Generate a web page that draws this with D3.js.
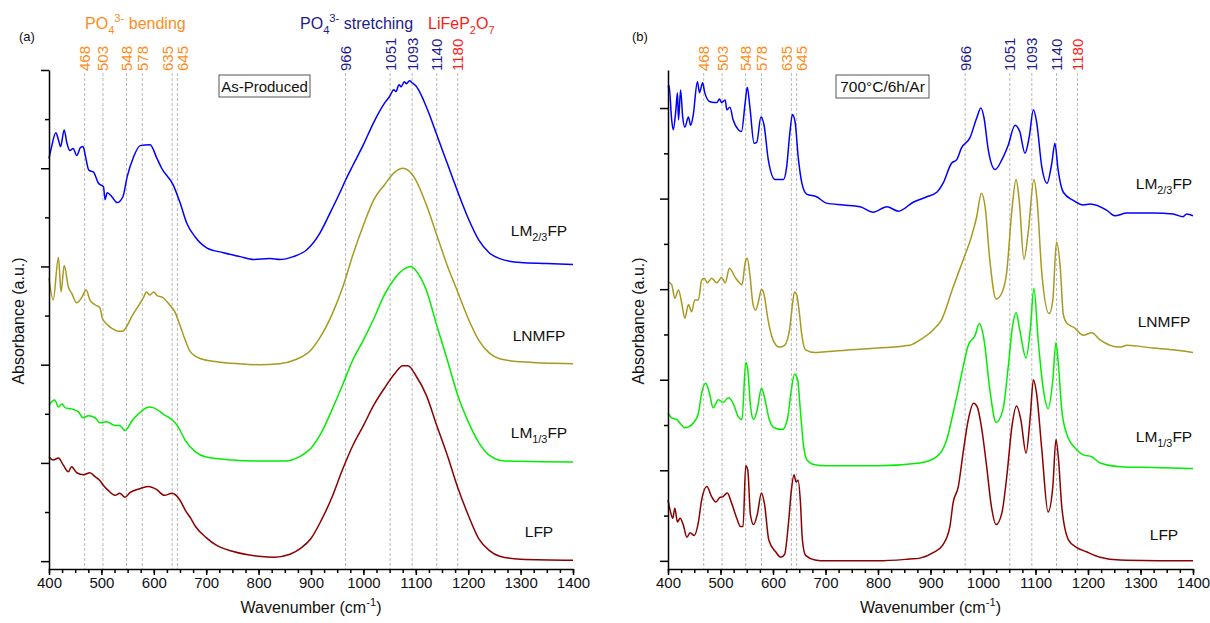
<!DOCTYPE html>
<html>
<head>
<meta charset="utf-8">
<script src="https://cdn.jsdelivr.net/npm/d3@7"></script>
<style>
  html, body { margin: 0; padding: 0; background: #fff; }
  svg text { font-family: "Liberation Sans", Arial, sans-serif; }
</style>
</head>
<body>
<svg id="chart" width="1210" height="623"></svg>
<script>
// ---------- Data: FTIR absorbance (offset, a.u.) vs wavenumber (cm-1) ----------
// Panel (a): as-produced powders
const asProducedLM23 = [[400,4.10],[405,4.22],[413,4.36],[418,4.29],[422,4.22],[429,4.39],[434,4.26],[440,4.18],[446,4.20],[453,4.13],[460,4.21],[465,4.22],[470,4.11],[476,3.98],[485,3.96],[494,3.85],[504,3.81],[507,3.68],[511,3.75],[520,3.71],[530,3.65],[541,3.71],[549,3.91],[561,4.11],[574,4.23],[593,4.24],[606,4.10],[615,4.00],[637,3.83],[650,3.65],[663,3.44],[679,3.30],[701,3.19],[733,3.14],[765,3.10],[790,3.07],[822,3.08],[841,3.07],[866,3.10],[892,3.17],[917,3.34],[936,3.54],[955,3.75],[966,3.88],[980,4.03],[1000,4.24],[1020,4.47],[1040,4.66],[1050,4.73],[1058,4.80],[1062,4.78],[1068,4.85],[1072,4.83],[1078,4.88],[1082,4.86],[1088,4.89],[1093,4.87],[1100,4.84],[1105,4.80],[1115,4.69],[1125,4.56],[1140,4.34],[1160,4.05],[1180,3.76],[1200,3.49],[1220,3.27],[1240,3.14],[1260,3.08],[1300,3.04],[1350,3.03],[1400,3.02]];
const asProducedLNMFP = [[400,2.88],[408,2.66],[418,3.09],[423,2.74],[429,3.01],[437,2.79],[443,2.73],[453,2.63],[462,2.68],[471,2.76],[478,2.66],[488,2.61],[497,2.58],[502,2.47],[509,2.42],[520,2.37],[532,2.34],[540,2.34],[560,2.51],[580,2.68],[586,2.74],[592,2.71],[600,2.74],[607,2.70],[615,2.69],[630,2.61],[640,2.54],[650,2.40],[660,2.25],[670,2.13],[690,2.06],[720,2.03],[760,2.01],[800,2.00],[840,2.01],[870,2.05],[900,2.15],[920,2.30],[940,2.51],[960,2.78],[980,3.12],[1000,3.42],[1020,3.68],[1040,3.83],[1060,3.96],[1075,4.00],[1085,3.98],[1100,3.88],[1120,3.63],[1140,3.32],[1160,3.01],[1180,2.74],[1200,2.47],[1220,2.25],[1240,2.12],[1260,2.06],[1300,2.03],[1400,2.01]];
const asProducedLM13 = [[400,1.59],[411,1.64],[418,1.57],[425,1.60],[431,1.56],[443,1.55],[456,1.52],[465,1.46],[475,1.48],[488,1.46],[497,1.41],[510,1.42],[526,1.38],[535,1.38],[545,1.33],[560,1.44],[580,1.54],[590,1.57],[600,1.56],[620,1.49],[635,1.44],[645,1.38],[660,1.23],[680,1.11],[700,1.06],[750,1.03],[800,1.02],[850,1.02],[880,1.07],[900,1.15],[920,1.31],[940,1.54],[960,1.79],[980,2.05],[1000,2.25],[1020,2.47],[1040,2.71],[1060,2.88],[1080,2.98],[1090,3.00],[1100,2.96],[1120,2.76],[1140,2.40],[1160,2.05],[1180,1.69],[1200,1.42],[1220,1.21],[1240,1.08],[1270,1.02],[1400,1.01]];
const asProducedLFP = [[400,1.06],[408,1.03],[418,1.05],[427,0.98],[437,0.91],[443,0.96],[453,0.90],[466,0.88],[478,0.90],[488,0.86],[497,0.82],[504,0.77],[513,0.72],[526,0.67],[535,0.69],[545,0.65],[555,0.70],[575,0.74],[590,0.76],[605,0.73],[620,0.67],[635,0.69],[650,0.62],[660,0.52],[670,0.44],[680,0.35],[700,0.24],[720,0.16],[750,0.10],[800,0.05],[830,0.04],[860,0.07],[880,0.13],[900,0.23],[920,0.42],[940,0.65],[960,0.93],[980,1.18],[1000,1.38],[1020,1.59],[1040,1.76],[1060,1.91],[1075,1.99],[1085,1.99],[1100,1.89],[1120,1.69],[1140,1.38],[1160,1.08],[1180,0.75],[1200,0.47],[1220,0.23],[1240,0.11],[1260,0.05],[1300,0.02],[1400,0.01]];

// Panel (b): after 700 °C / 6 h / Ar
const annealedLM23 = [[400,5.23],[402,5.25],[407,4.87],[410,4.76],[415,4.98],[418,5.17],[420,4.87],[424,5.20],[428,4.90],[432,4.79],[439,4.90],[443,4.81],[448,4.92],[456,5.29],[460,5.17],[466,5.28],[470,5.17],[480,5.07],[493,5.06],[498,5.10],[502,5.06],[509,5.09],[512,4.98],[518,5.01],[524,4.87],[534,4.76],[540,4.74],[547,5.06],[551,5.23],[556,5.01],[564,4.61],[569,4.62],[577,4.90],[583,4.81],[591,4.43],[604,4.21],[620,4.21],[626,4.35],[632,4.72],[637,4.93],[642,4.85],[648,4.46],[655,4.17],[664,4.05],[683,4.02],[702,3.95],[734,3.93],[766,3.91],[791,3.85],[817,3.91],[839,3.86],[867,3.96],[893,4.02],[912,4.07],[924,4.17],[940,4.39],[950,4.43],[959,4.56],[975,4.67],[988,4.89],[996,5.00],[1002,4.89],[1010,4.54],[1023,4.32],[1036,4.43],[1048,4.59],[1061,4.81],[1070,4.74],[1080,4.50],[1088,4.68],[1096,4.98],[1102,4.85],[1112,4.35],[1122,4.17],[1131,4.39],[1137,4.61],[1143,4.32],[1153,4.07],[1172,3.98],[1191,3.93],[1204,3.94],[1236,3.87],[1251,3.81],[1274,3.84],[1324,3.84],[1362,3.83],[1381,3.80],[1388,3.83],[1400,3.81]];
const annealedLNMFP = [[400,3.08],[407,3.05],[413,2.90],[420,2.99],[426,2.85],[432,2.68],[439,2.83],[445,2.75],[451,2.88],[458,2.88],[464,3.10],[469,3.12],[475,3.07],[483,3.12],[493,3.07],[502,3.13],[509,3.07],[517,3.23],[528,3.13],[536,3.07],[541,3.05],[547,3.29],[551,3.34],[556,3.16],[562,2.83],[567,2.77],[573,2.88],[578,3.00],[583,2.94],[590,2.68],[600,2.44],[612,2.36],[622,2.38],[632,2.57],[637,2.83],[641,2.97],[645,2.94],[650,2.75],[655,2.49],[662,2.33],[680,2.30],[700,2.31],[750,2.33],[800,2.35],[860,2.38],[880,2.44],[905,2.55],[921,2.66],[943,3.02],[962,3.32],[978,3.58],[988,3.80],[997,4.06],[1004,3.91],[1013,3.32],[1025,2.89],[1036,2.96],[1045,3.18],[1055,3.87],[1063,4.21],[1069,3.98],[1078,3.33],[1086,3.62],[1097,4.21],[1103,3.98],[1112,3.18],[1126,2.73],[1133,2.88],[1140,3.52],[1147,3.25],[1153,2.72],[1159,2.63],[1175,2.57],[1191,2.49],[1207,2.52],[1223,2.44],[1261,2.36],[1274,2.38],[1324,2.35],[1362,2.33],[1400,2.30]];
const annealedLM13 = [[400,1.63],[407,1.58],[417,1.56],[423,1.52],[432,1.47],[439,1.48],[448,1.52],[458,1.63],[464,1.85],[472,1.96],[479,1.85],[486,1.69],[496,1.78],[505,1.75],[515,1.80],[524,1.74],[534,1.59],[541,1.56],[548,2.19],[552,2.11],[557,1.72],[563,1.56],[570,1.67],[578,1.91],[584,1.80],[592,1.58],[602,1.47],[618,1.45],[628,1.58],[635,1.89],[641,2.06],[647,2.00],[652,1.67],[658,1.28],[665,1.11],[680,1.06],[700,1.05],[800,1.05],[880,1.08],[912,1.15],[931,1.34],[943,1.63],[953,1.89],[962,2.14],[972,2.38],[985,2.49],[993,2.62],[1002,2.44],[1013,1.89],[1025,1.53],[1038,1.67],[1048,2.14],[1056,2.58],[1063,2.74],[1070,2.55],[1082,2.24],[1090,2.55],[1097,3.01],[1105,2.44],[1115,1.89],[1124,1.68],[1133,2.00],[1139,2.41],[1144,2.14],[1150,1.67],[1159,1.41],[1178,1.23],[1191,1.17],[1207,1.15],[1223,1.08],[1261,1.04],[1324,1.03],[1400,1.02]];
const annealedLFP = [[400,0.67],[404,0.56],[409,0.47],[413,0.58],[418,0.43],[423,0.47],[429,0.40],[436,0.26],[442,0.31],[450,0.28],[458,0.43],[464,0.67],[474,0.82],[483,0.71],[491,0.65],[499,0.70],[505,0.71],[513,0.75],[521,0.64],[531,0.47],[538,0.38],[543,0.38],[548,1.05],[552,1.00],[557,0.51],[563,0.40],[570,0.51],[578,0.75],[584,0.62],[592,0.23],[605,0.10],[615,0.04],[622,0.07],[630,0.45],[635,0.78],[640,0.95],[644,0.87],[648,0.89],[652,0.67],[656,0.23],[662,0.06],[680,0.01],[700,0.00],[800,0.00],[860,0.02],[880,0.03],[905,0.09],[924,0.18],[937,0.38],[943,0.64],[953,0.82],[962,1.19],[972,1.56],[982,1.74],[989,1.70],[997,1.48],[1007,1.04],[1016,0.60],[1025,0.40],[1036,0.53],[1046,0.97],[1055,1.48],[1064,1.71],[1072,1.56],[1082,1.19],[1090,1.59],[1096,2.00],[1102,1.85],[1112,1.23],[1124,0.54],[1133,0.82],[1139,1.34],[1144,1.11],[1150,0.60],[1163,0.23],[1178,0.15],[1197,0.10],[1223,0.04],[1261,0.01],[1400,0.00]];

// Band assignments marked by guide lines
const bendingPeaks = [468, 503, 548, 578, 635, 645];
const stretchingPeaks = [966, 1051, 1093, 1140];
const pyrophosphatePeaks = [1180];

// Axis ticks
const xTickLabels = [400, 500, 600, 700, 800, 900, 1000, 1100, 1200, 1300, 1400];
const yMajorTicks = [0, 1, 2, 3, 4, 5];
const yMinorTicks = [0.5, 1.5, 2.5, 3.5, 4.5];

// ---------- Drawing ----------
const COLORS = { LM23: "#0000ff", LNMFP: "#a8991f", LM13: "#00ee00", LFP: "#8b0000" };
const BAND_COLORS = { bend: "#ff8c1a", stretch: "#1c1c8c", pyro: "#ff1a1a" };
const FONT = '"Liberation Sans", Arial, sans-serif';
const AXIS_Y = 569, TOP_Y = 70;
// horizontal nudges (px) for labels of closely spaced guide lines
const LABEL_NUDGE = { 635: -5, 645: 5 };

const svg = d3.select("#chart");

// text with sub/superscript pieces
function rich(sel, parts, fs) {
  let off = 0;
  parts.forEach(p => {
    const target = p.sub ? fs * 0.3 : p.sup ? -fs * 0.42 : 0;
    sel.append("tspan")
      .attr("dy", target - off)
      .attr("font-size", (p.sub || p.sup) ? fs * 0.7 : fs)
      .text(p.t);
    off = target;
  });
  return sel;
}

const allPeaks = [
  ...bendingPeaks.map(wn => ({ wn, color: BAND_COLORS.bend })),
  ...stretchingPeaks.map(wn => ({ wn, color: BAND_COLORS.stretch })),
  ...pyrophosphatePeaks.map(wn => ({ wn, color: BAND_COLORS.pyro }))
];

function drawPanel(o) {
  const g = svg.append("g");
  const x = d3.scaleLinear().domain([400, 1400]).range([o.left, o.right]);
  const y = d3.scaleLinear().domain(o.yDomain).range([AXIS_Y, TOP_Y]);

  // dashed guide lines and their wavenumbers
  g.selectAll("line.guide").data(allPeaks).join("line")
    .attr("x1", d => x(d.wn)).attr("x2", d => x(d.wn))
    .attr("y1", o.guideTop).attr("y2", AXIS_Y)
    .attr("stroke", "#b8b8b8").attr("stroke-width", 1)
    .attr("stroke-dasharray", "3,2");
  g.selectAll("text.peak").data(allPeaks).join("text")
    .attr("transform", d => `translate(${x(d.wn) + (LABEL_NUDGE[d.wn] || 0)},${o.peakLabelY}) rotate(-90)`)
    .attr("dominant-baseline", "central")
    .attr("font-size", 15).attr("fill", d => d.color)
    .text(d => d.wn);

  // spectra
  const line = d3.line().x(d => x(d[0])).y(d => y(d[1])).curve(d3.curveMonotoneX);
  o.series.forEach(s => {
    g.append("path").datum(s.data)
      .attr("d", line).attr("fill", "none")
      .attr("stroke", s.color).attr("stroke-width", 1.5)
      .attr("stroke-linejoin", "round");
  });

  // series labels
  o.series.forEach(s => {
    const t = g.append("text").attr("x", o.labelX).attr("y", s.labelY)
      .attr("text-anchor", "middle").attr("fill", "#111");
    rich(t, s.name, 15.5);
  });

  // x axis
  const xMinor = g.append("g").attr("transform", `translate(0,${AXIS_Y})`)
    .call(d3.axisBottom(x).tickValues(d3.range(400, 1401, 25)).tickSize(4).tickFormat(""));
  xMinor.select(".domain").remove();
  const xAxis = g.append("g").attr("transform", `translate(0,${AXIS_Y})`)
    .call(d3.axisBottom(x).tickValues(xTickLabels).tickSize(6).tickSizeOuter(0).tickPadding(2).tickFormat(d3.format("d")));
  xAxis.selectAll("text").attr("font-size", 15).attr("font-family", FONT).attr("fill", "#111");

  // y axis (no labels)
  const yMinor = g.append("g").attr("transform", `translate(${o.left},0)`)
    .call(d3.axisLeft(y).tickValues(yMinorTicks).tickSize(4).tickFormat(""));
  yMinor.select(".domain").remove();
  g.append("g").attr("transform", `translate(${o.left},0)`)
    .call(d3.axisLeft(y).tickValues(yMajorTicks).tickSize(8).tickSizeOuter(0).tickFormat(""));

  g.selectAll(".domain, .tick line").attr("stroke", "#000").attr("stroke-width", 1.5);

  // axis titles
  const xt = g.append("text").attr("x", (o.left + o.right) / 2).attr("y", 613)
    .attr("text-anchor", "middle").attr("fill", "#111");
  rich(xt, [{ t: "Wavenumber (cm" }, { t: "-1", sup: true }, { t: ")" }], 16);
  g.append("text")
    .attr("transform", `translate(${o.yTitleX},321) rotate(-90)`)
    .attr("text-anchor", "middle").attr("dominant-baseline", "central")
    .attr("font-size", 16).attr("fill", "#111")
    .text("Absorbance (a.u.)");

  // panel letter
  g.append("text").attr("x", o.letterX).attr("y", 41).attr("font-size", 13).attr("fill", "#111").text(o.letter);

  // condition box
  const box = g.append("g");
  box.append("rect").attr("x", o.box.x).attr("y", o.box.y).attr("width", o.box.w).attr("height", o.box.h)
    .attr("fill", "#fff").attr("stroke", "#555").attr("stroke-width", 1);
  box.append("text").attr("x", o.box.x + o.box.w / 2).attr("y", o.box.y + o.box.h / 2)
    .attr("text-anchor", "middle").attr("dominant-baseline", "central")
    .attr("font-size", o.box.fs).attr("fill", "#111").text(o.box.text);
}

const nameLM23 = [{ t: "LM" }, { t: "2/3", sub: true }, { t: "FP" }];
const nameLNMFP = [{ t: "LNMFP" }];
const nameLM13 = [{ t: "LM" }, { t: "1/3", sub: true }, { t: "FP" }];
const nameLFP = [{ t: "LFP" }];

drawPanel({
  left: 49, right: 573, yDomain: [-0.08, 5], guideTop: 73, peakLabelY: 71,
  labelX: 539, yTitleX: 18, letter: "(a)", letterX: 19,
  box: { x: 219, y: 75, w: 91, h: 22, text: "As-Produced", fs: 15 },
  series: [
    { data: asProducedLM23, color: COLORS.LM23, name: nameLM23, labelY: 236 },
    { data: asProducedLNMFP, color: COLORS.LNMFP, name: nameLNMFP, labelY: 341 },
    { data: asProducedLM13, color: COLORS.LM13, name: nameLM13, labelY: 438 },
    { data: asProducedLFP, color: COLORS.LFP, name: nameLFP, labelY: 537 }
  ]
});

drawPanel({
  left: 668, right: 1193, yDomain: [-0.09, 5.42], guideTop: 73, peakLabelY: 71,
  labelX: 1164, yTitleX: 638, letter: "(b)", letterX: 632,
  box: { x: 836, y: 75, w: 93, h: 23, text: "700\u00B0C/6h/Ar", fs: 15.5 },
  series: [
    { data: annealedLM23, color: COLORS.LM23, name: nameLM23, labelY: 189 },
    { data: annealedLNMFP, color: COLORS.LNMFP, name: nameLNMFP, labelY: 327 },
    { data: annealedLM13, color: COLORS.LM13, name: nameLM13, labelY: 442 },
    { data: annealedLFP, color: COLORS.LFP, name: nameLFP, labelY: 540 }
  ]
});

// band group headings above panel (a)
const heads = [
  { x: 85, color: BAND_COLORS.bend, parts: [{ t: "PO" }, { t: "4", sub: true }, { t: "3-", sup: true }, { t: " bending" }] },
  { x: 300, color: BAND_COLORS.stretch, parts: [{ t: "PO" }, { t: "4", sub: true }, { t: "3-", sup: true }, { t: " stretching" }] },
  { x: 428, color: BAND_COLORS.pyro, parts: [{ t: "LiFeP" }, { t: "2", sub: true }, { t: "O" }, { t: "7", sub: true }] }
];
heads.forEach(h => {
  const t = svg.append("text").attr("x", h.x).attr("y", 29).attr("fill", h.color);
  rich(t, h.parts, 16);
});
</script>
</body>
</html>
